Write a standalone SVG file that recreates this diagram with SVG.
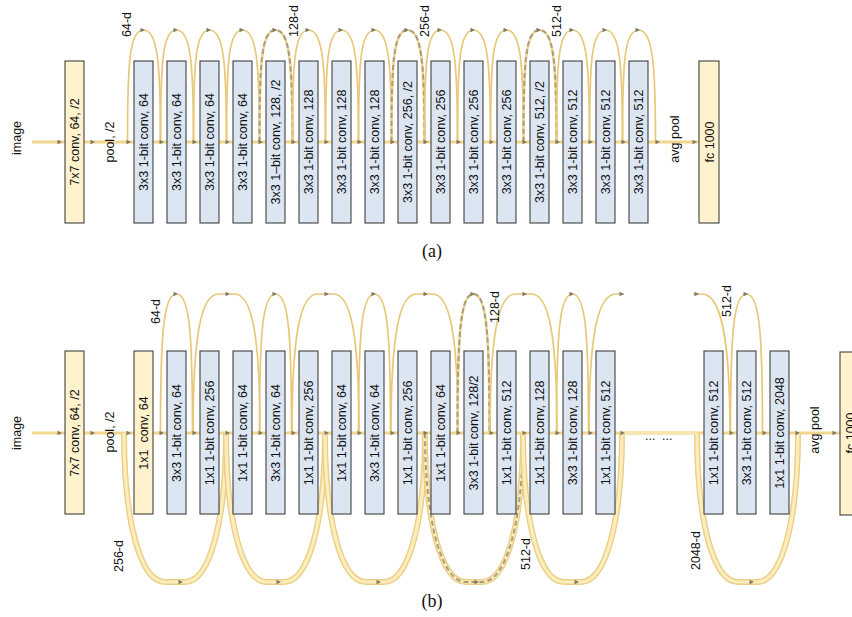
<svg xmlns="http://www.w3.org/2000/svg" xmlns:xlink="http://www.w3.org/1999/xlink" width="852" height="617" viewBox="0 0 852 617">
<style>
.bg{fill:#ffffff}
.blue{fill:#dce6f2;stroke:#404040;stroke-width:1.1}
.yel{fill:#fff2cc;stroke:#404040;stroke-width:1.1}
.t{font-family:"Liberation Sans",Arial,sans-serif;font-size:12.5px;fill:#111;text-anchor:middle}
.lbl{font-family:"Liberation Sans",Arial,sans-serif;font-size:12.5px;fill:#111}
.cap{font-family:"Liberation Serif","Times New Roman",serif;font-size:18px;fill:#111;text-anchor:middle}
.main{stroke:#f2d68e;stroke-width:3;fill:none}
.arc{fill:none;stroke:#e8c878;stroke-width:1.7}
.dash{fill:none;stroke:#a99d7e;stroke-width:2;stroke-dasharray:5 3}
.arcd{fill:none;stroke:#eed696;stroke-width:2.6}
.bo{fill:none;stroke:#ebcf85;stroke-width:6}
.bi{fill:none;stroke:#fbedbe;stroke-width:3.2}
.ah{fill:#7d7a68}
</style>
<defs>
<path id="ah" d="M0,0 L-4.5,-2.3 L-4.5,2.3 Z"/>
<path id="arcA" d="M-16,0 C-16,-80 -14,-112 0,-112 C14,-112 17,-80 17,0"/>
<path id="arcN" d="M-16,0 C-16,-100 -13,-139 0,-139 C13,-139 16,-100 16,0"/>
<path id="arcW" d="M-33.5,0 C-33.5,-100 -25,-139 -8,-139 L8,-139 C25,-139 33.5,-100 33.5,0"/>
</defs>
<rect class="bg" x="0" y="0" width="852" height="617"/>

<!-- ===== (a) ===== -->
<g id="connectors-a">
<line class="main" x1="32" y1="142" x2="699" y2="142"/>
<use class="arc" xlink:href="#arcA" x="143.5" y="142"/>
<use class="arc" xlink:href="#arcA" x="176.5" y="142"/>
<use class="arc" xlink:href="#arcA" x="209.5" y="142"/>
<use class="arc" xlink:href="#arcA" x="242.5" y="142"/>
<use class="arcd" xlink:href="#arcA" x="275.5" y="142"/>
<use class="dash" xlink:href="#arcA" x="275.5" y="142"/>
<use class="arc" xlink:href="#arcA" x="308.5" y="142"/>
<use class="arc" xlink:href="#arcA" x="341.5" y="142"/>
<use class="arc" xlink:href="#arcA" x="374.5" y="142"/>
<use class="arcd" xlink:href="#arcA" x="407.5" y="142"/>
<use class="dash" xlink:href="#arcA" x="407.5" y="142"/>
<use class="arc" xlink:href="#arcA" x="440.5" y="142"/>
<use class="arc" xlink:href="#arcA" x="473.5" y="142"/>
<use class="arc" xlink:href="#arcA" x="506.5" y="142"/>
<use class="arcd" xlink:href="#arcA" x="539.5" y="142"/>
<use class="dash" xlink:href="#arcA" x="539.5" y="142"/>
<use class="arc" xlink:href="#arcA" x="572.5" y="142"/>
<use class="arc" xlink:href="#arcA" x="605.5" y="142"/>
<use class="arc" xlink:href="#arcA" x="638.5" y="142"/>
<g class="ah">
<use xlink:href="#ah" x="62" y="142"/><use xlink:href="#ah" x="95" y="142"/><use xlink:href="#ah" x="131" y="142"/>
<use xlink:href="#ah" x="164" y="142"/><use xlink:href="#ah" x="197" y="142"/><use xlink:href="#ah" x="230" y="142"/>
<use xlink:href="#ah" x="263" y="142"/><use xlink:href="#ah" x="296" y="142"/><use xlink:href="#ah" x="329" y="142"/>
<use xlink:href="#ah" x="362" y="142"/><use xlink:href="#ah" x="395" y="142"/><use xlink:href="#ah" x="428" y="142"/>
<use xlink:href="#ah" x="461" y="142"/><use xlink:href="#ah" x="494" y="142"/><use xlink:href="#ah" x="527" y="142"/>
<use xlink:href="#ah" x="560" y="142"/><use xlink:href="#ah" x="593" y="142"/><use xlink:href="#ah" x="626" y="142"/>
<use xlink:href="#ah" x="660" y="142"/><use xlink:href="#ah" x="697" y="142"/>
<use xlink:href="#ah" x="145" y="30"/><use xlink:href="#ah" x="178" y="30"/><use xlink:href="#ah" x="211" y="30"/>
<use xlink:href="#ah" x="244" y="30"/><use xlink:href="#ah" x="277" y="30"/><use xlink:href="#ah" x="310" y="30"/>
<use xlink:href="#ah" x="343" y="30"/><use xlink:href="#ah" x="376" y="30"/><use xlink:href="#ah" x="409" y="30"/>
<use xlink:href="#ah" x="442" y="30"/><use xlink:href="#ah" x="475" y="30"/><use xlink:href="#ah" x="508" y="30"/>
<use xlink:href="#ah" x="541" y="30"/><use xlink:href="#ah" x="574" y="30"/><use xlink:href="#ah" x="607" y="30"/>
<use xlink:href="#ah" x="640" y="30"/>
</g>
</g>

<text class="t" transform="translate(21,138) rotate(-90)">image</text>
<text class="t" transform="translate(114,142) rotate(-90)">pool, /2</text>
<text class="t" transform="translate(679,139) rotate(-90)">avg pool</text>
<text class="lbl" transform="translate(131,37) rotate(-90)">64-d</text>
<text class="lbl" transform="translate(298,37) rotate(-90)">128-d</text>
<text class="lbl" transform="translate(429,37) rotate(-90)">256-d</text>
<text class="lbl" transform="translate(561,37) rotate(-90)">512-d</text>

<g id="a-conv7"><rect class="yel" x="65" y="61" width="19" height="162"/><text class="t" transform="translate(74.5,142) rotate(-90)" dy="4.5">7x7 conv, 64, /2</text></g>
<g id="a-b1"><rect class="blue" x="134" y="61" width="19" height="162"/><text class="t" transform="translate(143.5,142) rotate(-90)" dy="4.5">3x3 1-bit conv, 64</text></g>
<g id="a-b2"><rect class="blue" x="167" y="61" width="19" height="162"/><text class="t" transform="translate(176.5,142) rotate(-90)" dy="4.5">3x3 1-bit conv, 64</text></g>
<g id="a-b3"><rect class="blue" x="200" y="61" width="19" height="162"/><text class="t" transform="translate(209.5,142) rotate(-90)" dy="4.5">3x3 1-bit conv, 64</text></g>
<g id="a-b4"><rect class="blue" x="233" y="61" width="19" height="162"/><text class="t" transform="translate(242.5,142) rotate(-90)" dy="4.5">3x3 1-bit conv, 64</text></g>
<g id="a-b5"><rect class="blue" x="266" y="61" width="19" height="162"/><text class="t" transform="translate(275.5,142) rotate(-90)" dy="4.5">3x3 1–bit conv, 128, /2</text></g>
<g id="a-b6"><rect class="blue" x="299" y="61" width="19" height="162"/><text class="t" transform="translate(308.5,142) rotate(-90)" dy="4.5">3x3 1-bit conv, 128</text></g>
<g id="a-b7"><rect class="blue" x="332" y="61" width="19" height="162"/><text class="t" transform="translate(341.5,142) rotate(-90)" dy="4.5">3x3 1-bit conv, 128</text></g>
<g id="a-b8"><rect class="blue" x="365" y="61" width="19" height="162"/><text class="t" transform="translate(374.5,142) rotate(-90)" dy="4.5">3x3 1-bit conv, 128</text></g>
<g id="a-b9"><rect class="blue" x="398" y="61" width="19" height="162"/><text class="t" transform="translate(407.5,142) rotate(-90)" dy="4.5">3x3 1-bit conv, 256, /2</text></g>
<g id="a-b10"><rect class="blue" x="431" y="61" width="19" height="162"/><text class="t" transform="translate(440.5,142) rotate(-90)" dy="4.5">3x3 1-bit conv, 256</text></g>
<g id="a-b11"><rect class="blue" x="464" y="61" width="19" height="162"/><text class="t" transform="translate(473.5,142) rotate(-90)" dy="4.5">3x3 1-bit conv, 256</text></g>
<g id="a-b12"><rect class="blue" x="497" y="61" width="19" height="162"/><text class="t" transform="translate(506.5,142) rotate(-90)" dy="4.5">3x3 1-bit conv, 256</text></g>
<g id="a-b13"><rect class="blue" x="530" y="61" width="19" height="162"/><text class="t" transform="translate(539.5,142) rotate(-90)" dy="4.5">3x3 1-bit conv, 512, /2</text></g>
<g id="a-b14"><rect class="blue" x="563" y="61" width="19" height="162"/><text class="t" transform="translate(572.5,142) rotate(-90)" dy="4.5">3x3 1-bit conv, 512</text></g>
<g id="a-b15"><rect class="blue" x="596" y="61" width="19" height="162"/><text class="t" transform="translate(605.5,142) rotate(-90)" dy="4.5">3x3 1-bit conv, 512</text></g>
<g id="a-b16"><rect class="blue" x="629" y="61" width="19" height="162"/><text class="t" transform="translate(638.5,142) rotate(-90)" dy="4.5">3x3 1-bit conv, 512</text></g>
<g id="a-fc"><rect class="yel" x="699" y="61" width="20" height="162"/><text class="t" transform="translate(709,142) rotate(-90)" dy="4.5">fc 1000</text></g>
<text class="cap" x="432" y="257">(a)</text>

<!-- ===== (b) ===== -->
<g id="connectors-b">
<line class="main" x1="32" y1="433" x2="840" y2="433"/>
<path class="bo" d="M124,433 C124,520 140,582 165,582 L185,582 C210,582 226,520 226,433"/>
<path class="bi" d="M124,433 C124,520 140,582 165,582 L185,582 C210,582 226,520 226,433"/>
<path class="bo" d="M226,433 C226,520 242,582 267,582 L284,582 C309,582 325,520 325,433"/>
<path class="bi" d="M226,433 C226,520 242,582 267,582 L284,582 C309,582 325,520 325,433"/>
<path class="bo" d="M325,433 C325,520 341,582 366,582 L384,582 C409,582 425,520 425,433"/>
<path class="bi" d="M325,433 C325,520 341,582 366,582 L384,582 C409,582 425,520 425,433"/>
<path class="bo" d="M425,433 C425,520 441,582 466,582 L482,582 C507,582 523,520 523,433"/>
<path class="bi" d="M425,433 C425,520 441,582 466,582 L482,582 C507,582 523,520 523,433"/>
<path class="dash" d="M425,433 C425,520 441,582 466,582 L482,582 C507,582 523,520 523,433"/>
<path class="bo" d="M523,433 C523,520 539,582 564,582 L581,582 C606,582 622,520 622,433"/>
<path class="bi" d="M523,433 C523,520 539,582 564,582 L581,582 C606,582 622,520 622,433"/>
<path class="bo" d="M697,433 C697,520 713,582 738,582 L757,582 C782,582 798,520 798,433"/>
<path class="bi" d="M697,433 C697,520 713,582 738,582 L757,582 C782,582 798,520 798,433"/>
<line x1="622" y1="433" x2="697" y2="433" stroke="#f8e6b0" stroke-width="4"/>

<use class="arc" xlink:href="#arcN" x="176.5" y="433"/>
<use class="arc" xlink:href="#arcW" x="226.5" y="433"/>
<use class="arc" xlink:href="#arcN" x="275.5" y="433"/>
<use class="arc" xlink:href="#arcW" x="325.5" y="433"/>
<use class="arc" xlink:href="#arcN" x="374.5" y="433"/>
<use class="arc" xlink:href="#arcW" x="424.5" y="433"/>
<use class="arcd" xlink:href="#arcN" x="473.5" y="433"/>
<use class="dash" xlink:href="#arcN" x="473.5" y="433"/>
<use class="arc" xlink:href="#arcW" x="523.5" y="433"/>
<use class="arc" xlink:href="#arcN" x="572.5" y="433"/>
<path class="arc" d="M589,433 C589,333 598,294 616,294 L624,294"/>
<path class="arc" d="M693,294 L702,294 C720,294 730,333 730,433"/>
<use class="arc" xlink:href="#arcN" x="746.5" y="433"/>

<g class="ah">
<use xlink:href="#ah" x="62" y="433"/><use xlink:href="#ah" x="95" y="433"/><use xlink:href="#ah" x="131" y="433"/>
<use xlink:href="#ah" x="164" y="433"/><use xlink:href="#ah" x="197" y="433"/><use xlink:href="#ah" x="230" y="433"/>
<use xlink:href="#ah" x="263" y="433"/><use xlink:href="#ah" x="296" y="433"/><use xlink:href="#ah" x="329" y="433"/>
<use xlink:href="#ah" x="362" y="433"/><use xlink:href="#ah" x="395" y="433"/><use xlink:href="#ah" x="428" y="433"/>
<use xlink:href="#ah" x="461" y="433"/><use xlink:href="#ah" x="494" y="433"/><use xlink:href="#ah" x="527" y="433"/>
<use xlink:href="#ah" x="560" y="433"/><use xlink:href="#ah" x="593" y="433"/><use xlink:href="#ah" x="625" y="433"/>
<use xlink:href="#ah" x="734" y="433"/><use xlink:href="#ah" x="767" y="433"/><use xlink:href="#ah" x="800" y="433"/>
<use xlink:href="#ah" x="837" y="433"/>
<use xlink:href="#ah" x="183" y="582"/><use xlink:href="#ah" x="281" y="582"/><use xlink:href="#ah" x="381" y="582"/>
<use xlink:href="#ah" x="479" y="582"/><use xlink:href="#ah" x="579" y="582"/><use xlink:href="#ah" x="754" y="582"/>
<use xlink:href="#ah" x="178" y="294"/><use xlink:href="#ah" x="230" y="294"/><use xlink:href="#ah" x="277" y="294"/>
<use xlink:href="#ah" x="329" y="294"/><use xlink:href="#ah" x="376" y="294"/><use xlink:href="#ah" x="428" y="294"/>
<use xlink:href="#ah" x="475" y="294"/><use xlink:href="#ah" x="527" y="294"/><use xlink:href="#ah" x="574" y="294"/>
<use xlink:href="#ah" x="624" y="294"/><use xlink:href="#ah" x="699" y="294"/><use xlink:href="#ah" x="748" y="294"/>
</g>
</g>

<text class="t" transform="translate(21,433) rotate(-90)">image</text>
<text class="t" transform="translate(114,432) rotate(-90)">pool, /2</text>
<text class="t" transform="translate(819,430) rotate(-90)">avg pool</text>
<text class="lbl" transform="translate(160,324) rotate(-90)">64-d</text>
<text class="lbl" transform="translate(123,572) rotate(-90)">256-d</text>
<text class="lbl" transform="translate(499,323) rotate(-90)">128-d</text>
<text class="lbl" transform="translate(530,570) rotate(-90)">512-d</text>
<text class="lbl" transform="translate(700,570) rotate(-90)">2048-d</text>
<text class="lbl" transform="translate(731,317) rotate(-90)">512-d</text>
<text class="lbl" x="645" y="440">...</text>
<text class="lbl" x="662" y="440">...</text>

<g id="b-conv7"><rect class="yel" x="65" y="351" width="19" height="163"/><text class="t" transform="translate(74.5,433) rotate(-90)" dy="4.5">7x7 conv, 64, /2</text></g>
<g id="b-conv1"><rect class="yel" x="134" y="351" width="19" height="163"/><text class="t" transform="translate(143.5,433) rotate(-90)" dy="4.5" xml:space="preserve">1x1  conv, 64</text></g>
<g id="b-b1"><rect class="blue" x="167" y="351" width="19" height="163"/><text class="t" transform="translate(176.5,433) rotate(-90)" dy="4.5">3x3 1-bit conv, 64</text></g>
<g id="b-b2"><rect class="blue" x="200" y="351" width="19" height="163"/><text class="t" transform="translate(209.5,433) rotate(-90)" dy="4.5">1x1 1-bit conv, 256</text></g>
<g id="b-b3"><rect class="blue" x="233" y="351" width="19" height="163"/><text class="t" transform="translate(242.5,433) rotate(-90)" dy="4.5">1x1 1-bit conv, 64</text></g>
<g id="b-b4"><rect class="blue" x="266" y="351" width="19" height="163"/><text class="t" transform="translate(275.5,433) rotate(-90)" dy="4.5">3x3 1-bit conv, 64</text></g>
<g id="b-b5"><rect class="blue" x="299" y="351" width="19" height="163"/><text class="t" transform="translate(308.5,433) rotate(-90)" dy="4.5">1x1 1-bit conv, 256</text></g>
<g id="b-b6"><rect class="blue" x="332" y="351" width="19" height="163"/><text class="t" transform="translate(341.5,433) rotate(-90)" dy="4.5">1x1 1-bit conv, 64</text></g>
<g id="b-b7"><rect class="blue" x="365" y="351" width="19" height="163"/><text class="t" transform="translate(374.5,433) rotate(-90)" dy="4.5">3x3 1-bit conv, 64</text></g>
<g id="b-b8"><rect class="blue" x="398" y="351" width="19" height="163"/><text class="t" transform="translate(407.5,433) rotate(-90)" dy="4.5">1x1 1-bit conv, 256</text></g>
<g id="b-b9"><rect class="blue" x="431" y="351" width="19" height="163"/><text class="t" transform="translate(440.5,433) rotate(-90)" dy="4.5">1x1 1-bit conv, 64</text></g>
<g id="b-b10"><rect class="blue" x="464" y="351" width="19" height="163"/><text class="t" transform="translate(473.5,433) rotate(-90)" dy="4.5">3x3 1-bit conv, 128/2</text></g>
<g id="b-b11"><rect class="blue" x="497" y="351" width="19" height="163"/><text class="t" transform="translate(506.5,433) rotate(-90)" dy="4.5">1x1 1-bit conv, 512</text></g>
<g id="b-b12"><rect class="blue" x="530" y="351" width="19" height="163"/><text class="t" transform="translate(539.5,433) rotate(-90)" dy="4.5">1x1 1-bit conv, 128</text></g>
<g id="b-b13"><rect class="blue" x="563" y="351" width="19" height="163"/><text class="t" transform="translate(572.5,433) rotate(-90)" dy="4.5">3x3 1-bit conv, 128</text></g>
<g id="b-b14"><rect class="blue" x="596" y="351" width="19" height="163"/><text class="t" transform="translate(605.5,433) rotate(-90)" dy="4.5">1x1 1-bit conv, 512</text></g>
<g id="b-b15"><rect class="blue" x="704" y="351" width="19" height="163"/><text class="t" transform="translate(713.5,433) rotate(-90)" dy="4.5">1x1 1-bit conv, 512</text></g>
<g id="b-b16"><rect class="blue" x="737" y="351" width="19" height="163"/><text class="t" transform="translate(746.5,433) rotate(-90)" dy="4.5">3x3 1-bit conv, 512</text></g>
<g id="b-b17"><rect class="blue" x="770" y="351" width="19" height="163"/><text class="t" transform="translate(779.5,433) rotate(-90)" dy="4.5">1x1 1-bit conv, 2048</text></g>
<g id="b-fc"><rect class="yel" x="840" y="352" width="20" height="163"/><text class="t" transform="translate(850,433) rotate(-90)" dy="4.5">fc 1000</text></g>
<text class="cap" x="432" y="607">(b)</text>
</svg>
